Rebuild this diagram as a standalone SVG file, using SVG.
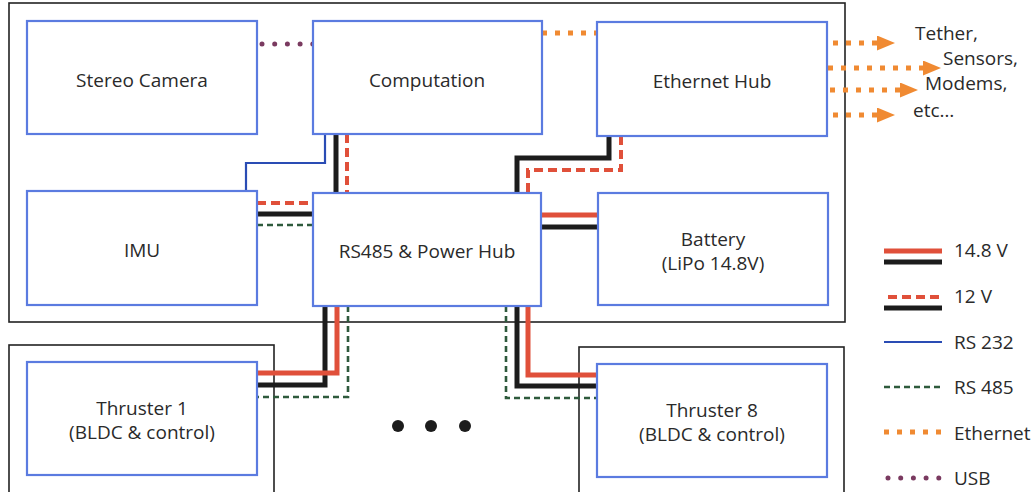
<svg xmlns="http://www.w3.org/2000/svg" width="1036" height="492" viewBox="0 0 1036 492">
<style>
.frame{fill:none;stroke:#222;stroke-width:1.6}
.box{fill:#fff;stroke:#5b7be0;stroke-width:2.2}
.t{font-family:"Open Sans",Lato,"Liberation Sans",sans-serif;font-size:19px;fill:#2a2a2a;text-anchor:middle}
.lt{font-family:"Open Sans",Lato,"Liberation Sans",sans-serif;font-size:19px;fill:#2a2a2a}
.c{fill:none;stroke-linejoin:miter}
.pr{stroke:#e0503a;stroke-width:5}
.pb{stroke:#1c1c1c;stroke-width:5}
.rd{stroke:#e0503a;stroke-width:4;stroke-dasharray:9 5}
.gd{stroke:#2e5a3c;stroke-width:2.6;stroke-dasharray:6 4}
.bl{stroke:#2a4cb4;stroke-width:2.2}
.eth{stroke:#f08a32;stroke-width:5;stroke-dasharray:5 8}
.usb{stroke:#7a3a60;stroke-width:5;stroke-linecap:round;stroke-dasharray:0 12.7}
</style>
<defs>
<marker id="arr" markerUnits="userSpaceOnUse" markerWidth="20" markerHeight="16" refX="0" refY="7.5" orient="auto">
<path d="M0,0 L18,7.5 L0,15 z" fill="#f08a32"/>
</marker>
</defs>
<rect width="1036" height="492" fill="#fff"/>
<g id="frames">
<rect class="frame" x="9" y="3" width="836" height="319"/>
<rect class="frame" x="9" y="345" width="265" height="152"/>
<rect class="frame" x="579" y="347" width="265" height="150"/>
</g>
<g id="connectors">
<path class="c usb" d="M262,44 H313"/>
<path class="c eth" d="M542,33 H597"/>
<path class="c bl" d="M325,134 V163 H246 V191"/>
<path class="c pb" d="M336,134 V193"/>
<path class="c rd" d="M347,134 V193"/>
<path class="c rd" d="M257,203 H313"/>
<path class="c pb" d="M257,214 H313"/>
<path class="c gd" d="M257,225 H313"/>
<path class="c pb" d="M609,136 V158 H517 V193"/>
<path class="c rd" d="M621,136 V170 H528 V193"/>
<path class="c pr" d="M541,215 H598"/>
<path class="c pb" d="M541,227 H598"/>
<path class="c pb" d="M325,306 V385 H257"/>
<path class="c pr" d="M337,306 V373 H257"/>
<path class="c gd" d="M348,306 V397 H257"/>
<path class="c gd" d="M506,306 V398 H597"/>
<path class="c pb" d="M517,306 V386 H597"/>
<path class="c pr" d="M528,306 V375 H597"/>
<path class="c eth" d="M833,43 H877" marker-end="url(#arr)"/>
<path class="c eth" d="M828,68 H923" marker-end="url(#arr)"/>
<path class="c eth" d="M830,90 H900" marker-end="url(#arr)"/>
<path class="c eth" d="M833,115 H877" marker-end="url(#arr)"/>
</g>
<g id="stereo-camera"><rect class="box" x="27" y="21" width="230" height="113"/><text class="t" x="142" y="87">Stereo Camera</text></g>
<g id="computation"><rect class="box" x="313" y="21" width="229" height="113"/><text class="t" x="427" y="87">Computation</text></g>
<g id="ethernet-hub"><rect class="box" x="597" y="22" width="230" height="114"/><text class="t" x="712" y="88">Ethernet Hub</text></g>
<g id="imu"><rect class="box" x="27" y="191" width="230" height="114"/><text class="t" x="142" y="257">IMU</text></g>
<g id="rs485-hub"><rect class="box" x="313" y="193" width="228" height="113"/><text class="t" x="427" y="258">RS485 &amp; Power Hub</text></g>
<g id="battery"><rect class="box" x="598" y="193" width="230" height="112"/><text class="t" x="713" y="246">Battery</text><text class="t" x="713" y="270">(LiPo 14.8V)</text></g>
<g id="thruster-1"><rect class="box" x="27" y="362" width="230" height="113"/><text class="t" x="142" y="415">Thruster 1</text><text class="t" x="142" y="439">(BLDC &amp; control)</text></g>
<g id="thruster-8"><rect class="box" x="597" y="364" width="230" height="113"/><text class="t" x="712" y="417">Thruster 8</text><text class="t" x="712" y="441">(BLDC &amp; control)</text></g>
<g id="ellipsis" fill="#1c1c1c">
<circle cx="398" cy="426" r="6"/><circle cx="431" cy="426" r="6"/><circle cx="465" cy="426" r="6"/>
</g>
<g id="external-labels">
<text class="lt" x="915" y="40">Tether,</text>
<text class="lt" x="943" y="65">Sensors,</text>
<text class="lt" x="925" y="90">Modems,</text>
<text class="lt" x="913" y="117">etc…</text>
</g>
<g id="legend">
<path class="c pr" d="M884,251 H942"/>
<path class="c pb" d="M884,262 H942"/>
<path class="c rd" d="M888,297 H942"/>
<path class="c pb" d="M884,308 H942"/>
<path class="c bl" d="M884,342 H942"/>
<path class="c gd" d="M884,387 H942"/>
<path class="c eth" d="M884,432 H942"/>
<path class="c usb" d="M888,478 H941"/>
<text class="lt" x="954" y="257">14.8 V</text>
<text class="lt" x="954" y="303">12 V</text>
<text class="lt" x="954" y="349">RS 232</text>
<text class="lt" x="954" y="394">RS 485</text>
<text class="lt" x="954" y="440">Ethernet</text>
<text class="lt" x="954" y="485">USB</text>
</g>
</svg>
